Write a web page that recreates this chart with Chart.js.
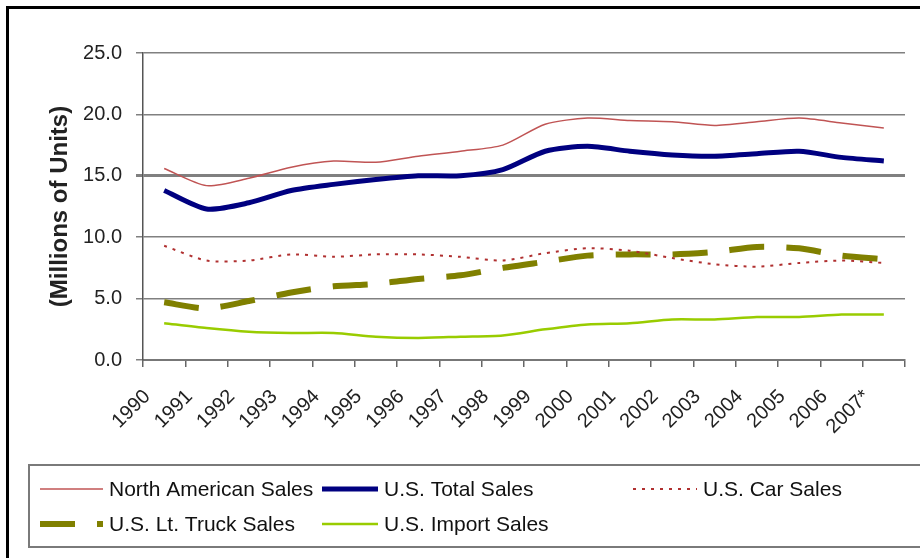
<!DOCTYPE html>
<html>
<head>
<meta charset="utf-8">
<script src="https://cdn.jsdelivr.net/npm/chart.js@4"></script>
<style>
  html, body { margin: 0; padding: 0; background: #fff; overflow: hidden; }
</style>
</head>
<body>
<canvas id="salesChart" width="920" height="558"></canvas>
<script>
// data (millions of units)
const years = ['1990','1991','1992','1993','1994','1995','1996','1997','1998','1999',
               '2000','2001','2002','2003','2004','2005','2006','2007*'];
const northAmerican = [15.6,14.2,14.8,15.7,16.2,16.1,16.6,17.0,17.5,19.2,19.7,19.5,19.4,19.1,19.4,19.7,19.3,18.9];
const usTotal  = [13.8,12.3,12.8,13.8,14.3,14.7,15.0,15.0,15.5,17.0,17.4,17.0,16.7,16.6,16.8,17.0,16.5,16.2];
const usCar    = [9.3,8.1,8.1,8.6,8.4,8.6,8.6,8.4,8.1,8.7,9.1,8.9,8.3,7.8,7.6,7.9,8.1,7.9];
const usTruck  = [4.7,4.2,4.8,5.5,6.0,6.2,6.6,6.9,7.5,8.0,8.5,8.6,8.6,8.8,9.2,9.1,8.5,8.2];
const usImport = [3.0,2.6,2.3,2.2,2.2,1.9,1.8,1.9,2.0,2.5,2.9,3.0,3.3,3.3,3.5,3.5,3.7,3.7];
const yTicks = [0, 5, 10, 15, 20, 25];

Chart.defaults.font.family = '"Liberation Sans", Arial, sans-serif';
Chart.defaults.font.size = 20;
Chart.defaults.color = '#222';

// legend in a framed box plus the outer frame, like the original
const boxLegend = {
  id: 'boxLegend',
  afterDraw(chart) {
    const ctx = chart.ctx;
    ctx.save();
    ctx.strokeStyle = '#000';
    ctx.lineWidth = 3;
    ctx.beginPath();
    ctx.moveTo(7.5, 558); ctx.lineTo(7.5, 7.5); ctx.lineTo(920, 7.5);
    ctx.stroke();

    ctx.strokeStyle = '#7a7a7a';
    ctx.lineWidth = 2;
    ctx.strokeRect(29, 465, 900, 82);

    const spots = [[40, 489], [322, 489], [633, 489], [40, 524], [322, 524]];
    const lens = [63, 56, 64, 63, 56];
    ctx.font = '21px "Liberation Sans", Arial, sans-serif';
    ctx.textBaseline = 'middle';
    chart.data.datasets.forEach((ds, i) => {
      const [x, y] = spots[i];
      ctx.strokeStyle = ds.borderColor;
      ctx.lineWidth = ds.borderWidth;
      ctx.setLineDash(ds.borderDash || []);
      ctx.beginPath();
      ctx.moveTo(x, y); ctx.lineTo(x + lens[i], y);
      ctx.stroke();
      ctx.setLineDash([]);
      ctx.fillStyle = '#111';
      ctx.fillText(ds.label, x + lens[i] + 6, y + 1);
    });
    ctx.restore();
  }
};

const data = {
  labels: years,
  datasets: [
    { label: 'North American Sales', data: northAmerican, borderColor: '#c05454', borderWidth: 1.5 },
    { label: 'U.S. Total Sales', data: usTotal, borderColor: '#000080', borderWidth: 5 },
    { label: 'U.S. Car Sales', data: usCar, borderColor: '#b03030', borderWidth: 2, borderDash: [3, 6] },
    { label: 'U.S. Lt. Truck Sales', data: usTruck, borderColor: '#808000', borderWidth: 6, borderDash: [35, 22] },
    { label: 'U.S. Import Sales', data: usImport, borderColor: '#99cc00', borderWidth: 2.5 }
  ]
};

const config = {
  type: 'line',
  data: data,
  plugins: [boxLegend],
  options: {
    responsive: false,
    animation: false,
    layout: { padding: { left: 40, top: 53, right: 15, bottom: 98 } },
    elements: {
      point: { radius: 0 },
      line: { tension: 0.25, fill: false, borderCapStyle: 'butt' }
    },
    plugins: { legend: { display: false }, tooltip: { enabled: false } },
    scales: {
      x: {
        offset: true,
        grid: { offset: true, drawOnChartArea: false, tickLength: 7, color: '#666', lineWidth: 1.5 },
        border: { color: '#777', width: 2 },
        ticks: { minRotation: 45, maxRotation: 45, padding: 18, labelOffset: -17, autoSkip: false },
        afterFit: s => { s.height = 100; }
      },
      y: {
        min: 0, max: 25,
        afterBuildTicks: s => { s.ticks = yTicks.map(v => ({ value: v })); },
        ticks: { padding: 14, callback: v => Number(v).toFixed(1) },
        grid: { color: '#808080', lineWidth: c => (c.tick && c.tick.value === 15 ? 3 : 1.5), tickLength: 7 },
        border: { color: '#555', width: 1.5 },
        title: { display: true, text: '(Millions of Units)', font: { weight: 'bold', size: 24 }, padding: { top: 6, bottom: 0 } },
        afterFit: s => { s.width = 103; }
      }
    }
  }
};

const myChart = new Chart(document.getElementById('salesChart'), config);
</script>
</body>
</html>
